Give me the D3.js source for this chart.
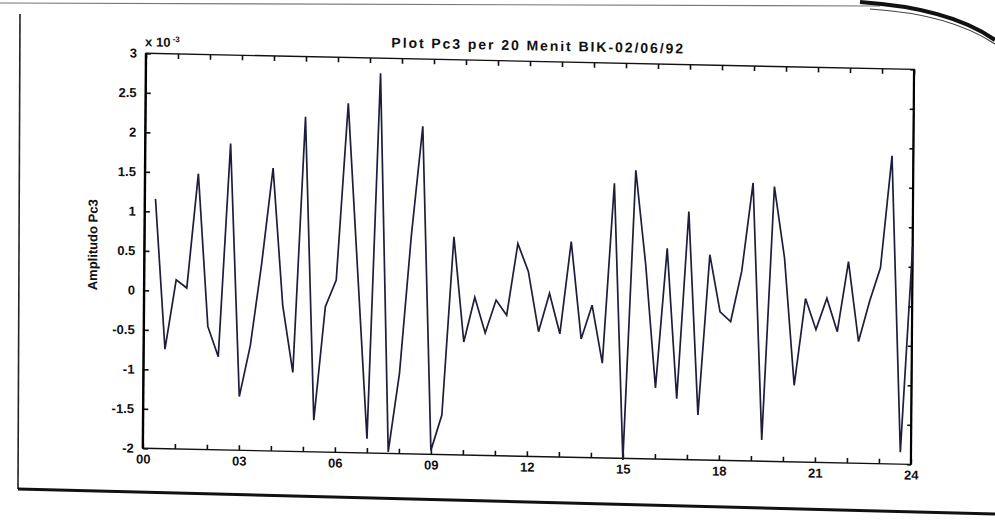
<!DOCTYPE html>
<html>
<head>
<meta charset="utf-8">
<script src="https://cdn.jsdelivr.net/npm/d3@7/dist/d3.min.js"></script>
<style>
  html, body { margin: 0; padding: 0; background: #ffffff; }
  svg { display: block; }
  text { font-family: "Liberation Sans", Arial, Helvetica, sans-serif; fill: #111; }
</style>
</head>
<body>
<svg id="chart" width="995" height="531"></svg>
<script>
// Pc3 amplitude sampled every 20 minutes through the day (units of 10^-3)
const title = "Plot Pc3 per 20 Menit BIK-02/06/92";
const yLabel = "Amplitudo Pc3";
const stepMinutes = 20;
const amplitude = [
   1.16, -0.74,  0.14,  0.04,  1.49, -0.44, -0.82,  1.88, -1.32, -0.67,
   0.37,  1.58, -0.15, -1.00,  2.24, -1.60, -0.16,  0.18,  2.42,  0.30,
  -1.82,  2.81, -1.98, -0.98,  0.75,  2.15, -1.95, -1.50,  0.76, -0.57,
   0.00, -0.45, -0.03, -0.22,  0.69,  0.34, -0.42,  0.07, -0.44,  0.73,
  -0.50, -0.07, -0.80,  1.48, -2.02,  1.65,  0.45, -1.10,  0.67, -1.23,
   1.14, -1.43,  0.60, -0.12, -0.24,  0.40,  1.52, -1.73,  1.48,  0.58,
  -1.03,  0.07, -0.32,  0.08, -0.34,  0.55, -0.46,  0.05,  0.48,  1.90,
  -1.85,  0.75
];
const hourTicks = [0,1,2,3,4,5,6,7,8,9,10,11,12,13,14,15,16,17,18,19,20,21,22,23,24];
const hourLabels = ["00","03","06","09","12","15","18","21","24"];
const yTicks = [-2,-1.5,-1,-0.5,0,0.5,1,1.5,2,2.5,3];
const yTickLabels = ["-2","-1.5","-1","-0.5","0","0.5","1","1.5","2","2.5","3"];

const svg = d3.select("#chart");

// sheet edges of the printed page
const sheet = svg.append("g").attr("fill", "none");
sheet.append("path")
  .attr("d", "M0,3 L880,6")
  .attr("stroke", "#777").attr("stroke-width", 1.2);
sheet.append("path")
  .attr("d", "M860,2 Q950,8 995,40")
  .attr("stroke", "#111").attr("stroke-width", 4);
sheet.append("path")
  .attr("d", "M870,9 Q950,14 995,44")
  .attr("stroke", "#444").attr("stroke-width", 1.2);
sheet.append("path")
  .attr("d", "M20,14 L18,489")
  .attr("stroke", "#222").attr("stroke-width", 1.6);
sheet.append("path")
  .attr("d", "M18,489 L995,514")
  .attr("stroke", "#111").attr("stroke-width", 3);

const W = 765, H = 395;
const x = d3.scaleLinear().domain([0, 24]).range([0, W]);
const y = d3.scaleLinear().domain([-2, 3]).range([H, 0]);

// the printed figure sits slightly askew on the page
const g = svg.append("g")
  .attr("transform", "matrix(1.004,0.021,-0.008,1,146,53.3)");

function styleAxis(sel) {
  sel.select(".domain").remove();
  sel.selectAll(".tick line").attr("stroke", "#111").attr("stroke-width", 1.6);
  sel.selectAll(".tick text")
    .style("font-size", "13px")
    .style("font-weight", "bold")
    .attr("fill", "#111");
}

// bottom axis: tick every hour, label every third hour
g.append("g")
  .attr("transform", `translate(0,${H})`)
  .call(d3.axisBottom(x).tickValues(hourTicks)
    .tickSizeInner(-5).tickSizeOuter(0).tickPadding(6)
    .tickFormat(h => h % 3 === 0 ? hourLabels[h / 3] : ""))
  .call(styleAxis);

g.append("g")
  .call(d3.axisTop(x).tickValues(hourTicks)
    .tickSizeInner(-5).tickSizeOuter(0).tickFormat(""))
  .call(styleAxis);

g.append("g")
  .call(d3.axisLeft(y).tickValues(yTicks)
    .tickSizeInner(-5).tickSizeOuter(0).tickPadding(9)
    .tickFormat((d, i) => yTickLabels[i]))
  .call(styleAxis);

g.append("g")
  .attr("transform", `translate(${W},0)`)
  .call(d3.axisRight(y).tickValues(yTicks)
    .tickSizeInner(-4).tickSizeOuter(0).tickFormat(""))
  .call(styleAxis);

// plot box
g.append("rect")
  .attr("x", 0).attr("y", 0).attr("width", W).attr("height", H)
  .attr("fill", "none").attr("stroke", "#111").attr("stroke-width", 1.4);
g.append("line")
  .attr("x1", 0).attr("y1", 0).attr("x2", 0).attr("y2", H)
  .attr("stroke", "#000").attr("stroke-width", 2.4);
g.append("line")
  .attr("x1", W).attr("y1", 0).attr("x2", W).attr("y2", H)
  .attr("stroke", "#000").attr("stroke-width", 2.2);

// amplitude trace
const line = d3.line()
  .x((d, i) => x((i + 1) * stepMinutes / 60))
  .y(d => y(d));
g.append("path")
  .datum(amplitude)
  .attr("d", line)
  .attr("fill", "none")
  .attr("stroke", "#1d1d3c")
  .attr("stroke-width", 1.7)
  .attr("stroke-linejoin", "miter");

// exponent marker
const expo = g.append("text")
  .attr("x", -1).attr("y", -7)
  .style("font-size", "13px").style("font-weight", "bold");
expo.append("tspan").text("x 10");
expo.append("tspan").attr("dy", -5).style("font-size", "8px").text(" -3");

// title
g.append("text")
  .attr("x", W / 2 + 8).attr("y", -11)
  .attr("text-anchor", "middle")
  .style("font-size", "14px").style("font-weight", "bold")
  .style("letter-spacing", "1.9px")
  .text(title);

// y axis label
g.append("text")
  .attr("transform", `translate(-47,${H / 2 - 5}) rotate(-90)`)
  .attr("text-anchor", "middle")
  .style("font-size", "13px")
  .style("font-weight", "600")
  .text(yLabel);
</script>
</body>
</html>
